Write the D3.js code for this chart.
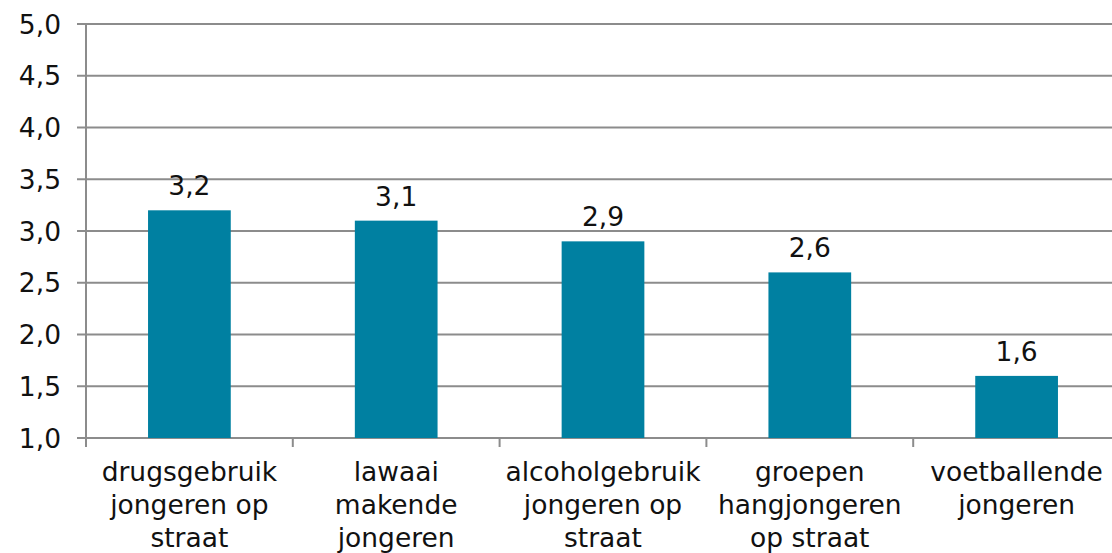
<!DOCTYPE html>
<html>
<head>
<meta charset="utf-8">
<script src="https://cdn.jsdelivr.net/npm/d3@7"></script>
<style>
  body { margin: 0; background: #fff; }
  svg { display: block; }
  text { font-family: "DejaVu Sans", Verdana, sans-serif; fill: #111; }
</style>
</head>
<body>
<svg></svg>
<script>
const width = 1112
const height = 553

// data
var categories = [
  ["drugsgebruik", "jongeren op", "straat"],
  ["lawaai", "makende", "jongeren"],
  ["alcoholgebruik", "jongeren op", "straat"],
  ["groepen", "hangjongeren", "op straat"],
  ["voetballende", "jongeren"]
]
var values = [3.2, 3.1, 2.9, 2.6, 1.6]
var yTicks = [1.0, 1.5, 2.0, 2.5, 3.0, 3.5, 4.0, 4.5, 5.0]

var nl = d3.formatLocale({ decimal: ",", thousands: ".", grouping: [3], currency: ["€", ""] })
var fmt = nl.format(".1f")
var fontSize = "26.5px"

const margin = { top: 24, right: -8, bottom: 115, left: 86 }
const svg = d3.select("svg")
  .attr("width", width)
  .attr("height", height)

const x = d3.scaleBand()
  .domain(d3.range(values.length))
  .range([margin.left, width - margin.right])
  .paddingInner(0.6)
  .paddingOuter(0.3)

const y = d3.scaleLinear()
  .domain([1, 5])
  .range([height - margin.bottom, margin.top])

const gridColor = "#8c8c8c"

// gridlines
svg.append("g")
  .selectAll("line")
  .data(yTicks)
  .enter()
  .append("line")
  .attr("x1", margin.left - 9)
  .attr("x2", width)
  .attr("y1", d => y(d))
  .attr("y2", d => y(d))
  .attr("stroke", gridColor)
  .attr("stroke-width", 2)

// y labels
svg.append("g")
  .selectAll("text")
  .data(yTicks)
  .enter()
  .append("text")
  .attr("x", margin.left - 25)
  .attr("y", d => y(d))
  .attr("dy", "0.36em")
  .attr("text-anchor", "end")
  .style("font-size", fontSize)
  .text(d => fmt(d))

// bars
svg.append("g")
  .selectAll("rect")
  .data(values)
  .enter()
  .append("rect")
  .attr("x", (d, i) => x(i))
  .attr("width", x.bandwidth())
  .attr("y", d => y(d))
  .attr("height", d => y(1) - y(d))
  .attr("fill", "#0080a1")

// value labels
svg.append("g")
  .selectAll("text")
  .data(values)
  .enter()
  .append("text")
  .attr("x", (d, i) => x(i) + x.bandwidth() / 2)
  .attr("y", d => y(d) - 15)
  .attr("text-anchor", "middle")
  .style("font-size", fontSize)
  .text(d => fmt(d))

// y axis line
svg.append("line")
  .attr("x1", margin.left).attr("x2", margin.left)
  .attr("y1", y(5)).attr("y2", y(1) + 9)
  .attr("stroke", gridColor)
  .attr("stroke-width", 2)

// category tick marks at band boundaries
var step = x.step()
var bounds = d3.range(values.length + 1).map(i => margin.left + i * step)
svg.append("g")
  .selectAll("line")
  .data(bounds)
  .enter()
  .append("line")
  .attr("x1", d => d).attr("x2", d => d)
  .attr("y1", y(1)).attr("y2", y(1) + 9)
  .attr("stroke", gridColor)
  .attr("stroke-width", 2)

// category labels
var cat = svg.append("g")
  .selectAll("text")
  .data(categories)
  .enter()
  .append("text")
  .attr("text-anchor", "middle")
  .style("font-size", fontSize)
  .attr("transform", (d, i) => "translate(" + (x(i) + x.bandwidth() / 2) + "," + (y(1) + 43) + ")")

cat.selectAll("tspan")
  .data(d => d)
  .enter()
  .append("tspan")
  .attr("x", 0)
  .attr("y", (d, i) => i * 33)
  .text(d => d)
</script>
</body>
</html>
